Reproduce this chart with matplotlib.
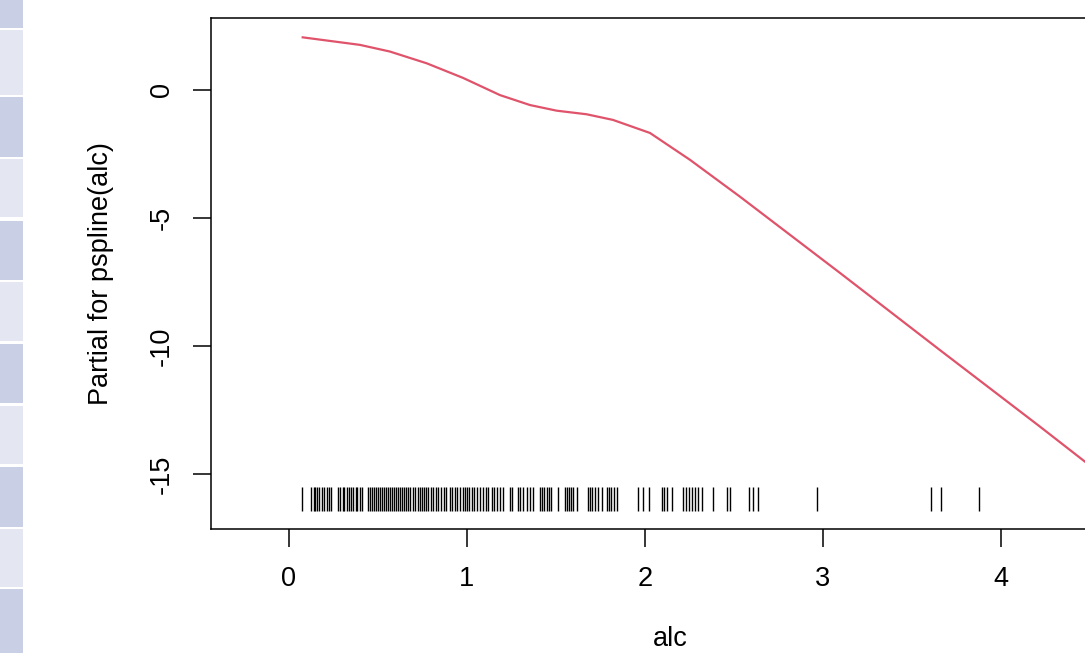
import matplotlib
matplotlib.use("Agg")
import matplotlib.pyplot as plt
from matplotlib.patches import Rectangle

# fitted partial effect of alc
alc_fit = [0.071, 0.399, 0.567, 0.774, 0.978, 1.185, 1.354, 1.504, 1.672, 1.820,
           2.028, 2.253, 2.534, 3.096, 3.657, 4.219, 4.472, 4.60]
partial = [2.06, 1.76, 1.50, 1.04, 0.47, -0.20, -0.59, -0.81, -0.95, -1.17,
           -1.68, -2.73, -4.17, -7.15, -10.16, -13.15, -14.52, -15.20]

# observed alc values shown as a rug
alc_obs = [0.071, 0.126, 0.138, 0.149, 0.160, 0.171, 0.185, 0.197, 0.213, 0.225,
           0.236, 0.278, 0.289, 0.301, 0.309, 0.326, 0.337, 0.348, 0.362, 0.374,
           0.385, 0.399, 0.410, 0.444, 0.455, 0.466, 0.478, 0.489, 0.500, 0.511,
           0.522, 0.534, 0.545, 0.556, 0.567, 0.579, 0.590, 0.601, 0.612, 0.624,
           0.635, 0.646, 0.657, 0.669, 0.680, 0.697, 0.708, 0.725, 0.736, 0.747,
           0.758, 0.770, 0.781, 0.798, 0.809, 0.826, 0.837, 0.854, 0.871, 0.882,
           0.904, 0.916, 0.933, 0.944, 0.961, 0.978, 0.989, 1.000, 1.011, 1.028,
           1.039, 1.056, 1.073, 1.090, 1.107, 1.118, 1.140, 1.152, 1.169, 1.185,
           1.202, 1.242, 1.253, 1.287, 1.298, 1.315, 1.337, 1.354, 1.371, 1.410,
           1.421, 1.433, 1.449, 1.461, 1.472, 1.511, 1.551, 1.562, 1.573, 1.584,
           1.596, 1.618, 1.680, 1.691, 1.702, 1.719, 1.736, 1.758, 1.787, 1.798,
           1.809, 1.826, 1.843, 1.961, 1.989, 2.022, 2.096, 2.107, 2.124, 2.152,
           2.213, 2.230, 2.247, 2.264, 2.281, 2.298, 2.320, 2.382, 2.461, 2.478,
           2.584, 2.607, 2.635, 2.966, 3.607, 3.663, 3.876]

x_ticks = [0, 1, 2, 3, 4]
y_ticks = [0, -5, -10, -15]

# page stripes at the left edge (pixel rows from top)
stripe_rows = [(0, 28), (30, 95), (97, 157), (159, 217), (221, 280), (282, 341),
               (344, 403), (406, 464), (467, 527), (529, 587), (589, 653)]

plt.rcParams['font.family'] = ['Liberation Sans', 'DejaVu Sans']

W, H = 1085, 653
fig = plt.figure(figsize=(W / 100, H / 100), dpi=100)
fig.patch.set_facecolor('white')

for i, (top, bot) in enumerate(stripe_rows):
    col = '#c9d0e6' if i % 2 == 0 else '#e4e7f1'
    fig.add_artist(Rectangle((0, 1 - bot / H), 23 / W, (bot - top) / H,
                             transform=fig.transFigure, facecolor=col,
                             edgecolor='none'))

# axes box: left 211px, top 18px, bottom 529px, right runs past the image
ax = fig.add_axes([211 / W, 1 - 529 / H, (1130 - 211) / W, (529 - 18) / H])
ax.set_xlim(-0.438, 4.725)
ax.set_ylim(-17.15, 2.81)

ax.plot(alc_fit, partial, color='#df536b', lw=1.6, solid_capstyle='butt')
ax.vlines(alc_obs, 0.035, 0.082, transform=ax.get_xaxis_transform(),
          color='black', lw=1.0)

for s in ax.spines.values():
    s.set_linewidth(1.1)
    s.set_color('black')

fs = 19.5
ax.set_xticks(x_ticks)
ax.set_yticks(y_ticks)
ax.set_xticklabels([str(v) for v in x_ticks])
ax.set_yticklabels([str(v) for v in y_ticks], rotation=90, va='center')
ax.tick_params(length=13, width=1.1, labelsize=fs, direction='out')
ax.tick_params(axis='x', pad=14)
ax.tick_params(axis='y', pad=13)

ax.set_xlabel('alc', fontsize=fs, labelpad=24)
ax.set_ylabel('Partial for pspline(alc)', fontsize=fs, labelpad=25)

fig.savefig('out.png', dpi=100)
